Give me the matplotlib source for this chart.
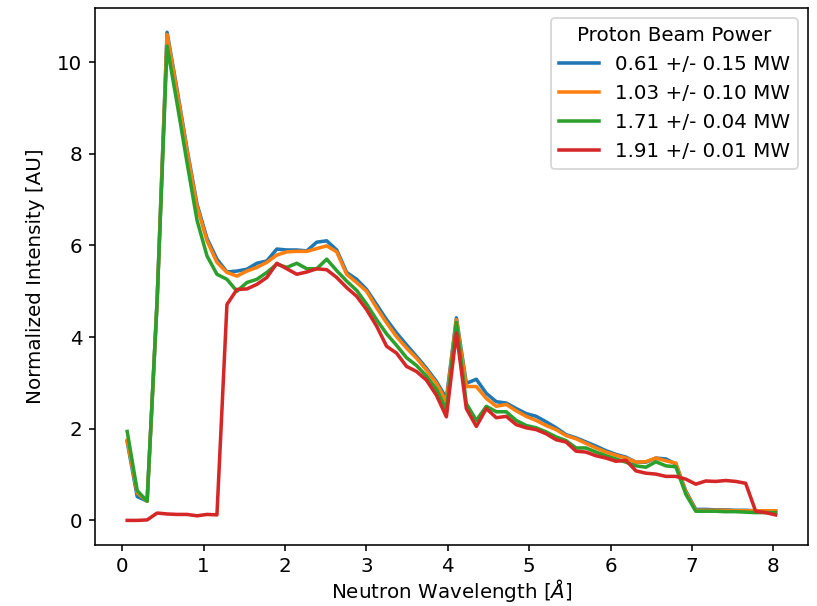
import matplotlib
matplotlib.use("Agg")
import matplotlib.pyplot as plt

# ============================================
# DATA
# ============================================

wavelength = [
    0.060, 0.183, 0.305, 0.428, 0.550, 0.673, 0.796, 0.918, 1.041, 1.163,
    1.286, 1.409, 1.531, 1.654, 1.776, 1.899, 2.022, 2.144, 2.267, 2.389,
    2.512, 2.635, 2.757, 2.880, 3.002, 3.125, 3.248, 3.370, 3.493, 3.615,
    3.738, 3.861, 3.983, 4.106, 4.228, 4.351, 4.474, 4.596, 4.719, 4.841,
    4.964, 5.087, 5.209, 5.332, 5.454, 5.577, 5.700, 5.822, 5.945, 6.067,
    6.190, 6.313, 6.435, 6.558, 6.680, 6.803, 6.926, 7.048, 7.171, 7.293,
    7.416, 7.539, 7.661, 7.784, 7.906, 8.029,
]

power_061 = [
    1.72, 0.52, 0.42, 4.80, 10.65, 9.40, 8.10, 6.90, 6.15, 5.70,
    5.42, 5.44, 5.48, 5.61, 5.66, 5.92, 5.90, 5.90, 5.88, 6.07,
    6.10, 5.90, 5.41, 5.26, 5.04, 4.71, 4.38, 4.09, 3.83, 3.58,
    3.32, 3.03, 2.66, 4.42, 2.99, 3.08, 2.77, 2.59, 2.56, 2.44,
    2.33, 2.27, 2.15, 2.02, 1.87, 1.80, 1.71, 1.62, 1.52, 1.44,
    1.38, 1.27, 1.27, 1.36, 1.34, 1.23, 0.64, 0.24, 0.24, 0.23,
    0.23, 0.22, 0.22, 0.21, 0.21, 0.20,
]

power_103 = [
    1.75, 0.60, 0.42, 4.80, 10.60, 9.35, 8.05, 6.85, 6.10, 5.63,
    5.41, 5.33, 5.44, 5.52, 5.63, 5.79, 5.86, 5.87, 5.87, 5.93,
    5.99, 5.86, 5.37, 5.19, 5.00, 4.64, 4.31, 4.01, 3.76, 3.54,
    3.28, 2.99, 2.59, 4.38, 2.92, 2.92, 2.66, 2.49, 2.53, 2.39,
    2.27, 2.18, 2.07, 1.98, 1.85, 1.78, 1.68, 1.58, 1.49, 1.42,
    1.36, 1.27, 1.28, 1.36, 1.30, 1.25, 0.62, 0.22, 0.22, 0.22,
    0.22, 0.21, 0.21, 0.21, 0.21, 0.21,
]

power_171 = [
    1.94, 0.65, 0.42, 4.80, 10.35, 9.10, 7.80, 6.55, 5.77, 5.37,
    5.26, 5.00, 5.19, 5.26, 5.41, 5.59, 5.52, 5.61, 5.49, 5.49,
    5.70, 5.45, 5.22, 5.02, 4.72, 4.38, 4.07, 3.82, 3.55, 3.38,
    3.15, 2.86, 2.42, 4.32, 2.55, 2.18, 2.49, 2.37, 2.37, 2.18,
    2.07, 2.02, 1.93, 1.82, 1.74, 1.58, 1.58, 1.49, 1.41, 1.34,
    1.27, 1.19, 1.16, 1.28, 1.19, 1.17, 0.57, 0.20, 0.20, 0.20,
    0.19, 0.19, 0.18, 0.17, 0.17, 0.17,
]

power_191 = [
    0.00, 0.00, 0.01, 0.16, 0.14, 0.13, 0.13, 0.10, 0.13, 0.12,
    4.71, 5.04, 5.05, 5.15, 5.30, 5.61, 5.49, 5.37, 5.42, 5.49,
    5.47, 5.30, 5.08, 4.89, 4.60, 4.24, 3.80, 3.65, 3.36, 3.25,
    3.06, 2.73, 2.26, 4.09, 2.44, 2.05, 2.44, 2.24, 2.27, 2.09,
    2.02, 1.98, 1.89, 1.76, 1.71, 1.51, 1.49, 1.41, 1.36, 1.29,
    1.31, 1.08, 1.03, 1.01, 0.96, 0.96, 0.90, 0.79, 0.86, 0.85,
    0.87, 0.85, 0.81, 0.20, 0.17, 0.12,
]

labels = [
    "0.61 +/- 0.15 MW",
    "1.03 +/- 0.10 MW",
    "1.71 +/- 0.04 MW",
    "1.91 +/- 0.01 MW",
]

series = [power_061, power_103, power_171, power_191]

# ============================================
# PLOT
# ============================================

plt.rcParams["font.size"] = 11.3
plt.rcParams["axes.linewidth"] = 0.9
plt.rcParams["xtick.major.width"] = 0.9
plt.rcParams["ytick.major.width"] = 0.9

DPI = 127
fig = plt.figure(figsize=(817 / DPI, 606 / DPI), dpi=DPI)
ax = fig.add_axes([0.116, 0.101, 0.873, 0.886])

for values, label in zip(series, labels):
    ax.plot(wavelength, values, linewidth=2, label=label)

ax.set_xlabel(r"Neutron Wavelength [$\AA$]", labelpad=0.5)
ax.set_ylabel("Normalized Intensity [AU]", labelpad=7)

ax.legend(title="Proton Beam Power", loc="upper right")

fig.savefig("out.png", dpi=DPI)
plt.close(fig)
